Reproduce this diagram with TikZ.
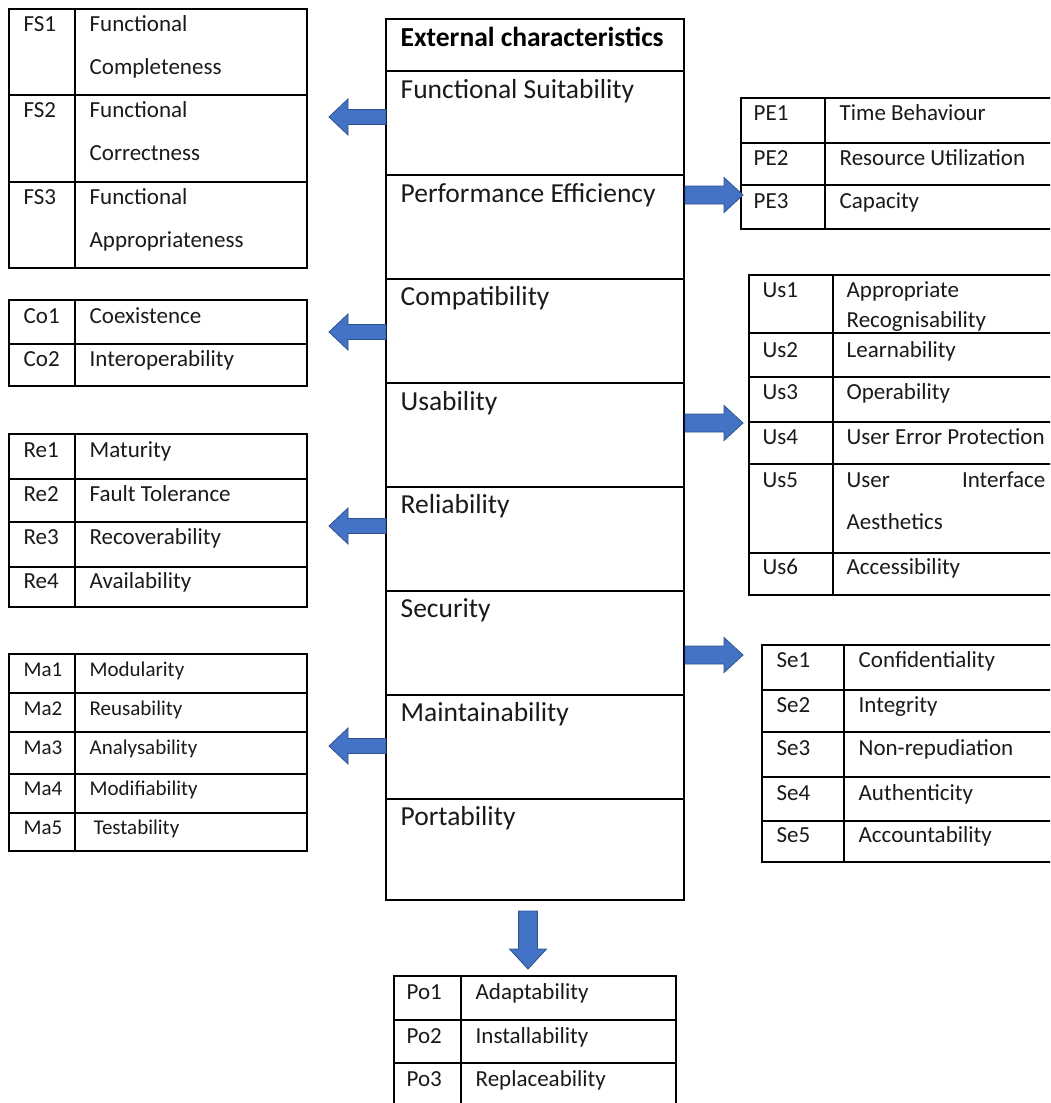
\documentclass[tikz,border=0pt]{standalone}
\usepackage{fontspec}
\setmainfont{Carlito}
\definecolor{arrowfill}{HTML}{4472C4}
\definecolor{arrowedge}{HTML}{2F528F}
\definecolor{ink}{HTML}{1A1A1A}
\begin{document}
\begin{tikzpicture}[x=1pt,y=-1pt,line width=1.3pt,
  cell/.style={anchor=base west,inner sep=0pt,text=ink,font=\fontsize{23}{27}\selectfont},
  cellsm/.style={cell,font=\fontsize{21}{25}\selectfont},
  charrow/.style={anchor=base west,inner sep=0pt,text=ink,font=\fontsize{27.5}{33}\selectfont},
  charhead/.style={anchor=base west,inner sep=0pt,text=black,font=\bfseries\fontsize{27.5}{33}\selectfont},
  blockarrow/.style={fill=arrowfill,draw=arrowedge,line width=0.8pt,line join=miter},
  leftarr/.pic={\path[blockarrow] (0,0) -- (19,-18) -- (19,-7.5) -- (57,-7.5) -- (57,7.5) -- (19,7.5) -- (19,18) -- cycle;},
  rightarr/.pic={\path[blockarrow] (0,-9) -- (39,-9) -- (39,-17.5) -- (58,0) -- (39,17.5) -- (39,9) -- (0,9) -- cycle;},
  downarr/.pic={\path[blockarrow] (-9.5,0) -- (9.5,0) -- (9.5,38) -- (18.5,38) -- (0,58) -- (-18.5,38) -- (-9.5,38) -- cycle;}]
\useasboundingbox[fill=white] (0,0) rectangle (1050,1103);
\clip (0,0) rectangle (1050,1103);

% ---------- central table ----------
\draw (386,19) rectangle (684,900);
\foreach \y in {71,175,279,383,487,591,695,799} \draw (386,\y) -- (684,\y);
\node[charhead] (hdr) at (400,46.8) {External characteristics};
\node[charrow] (cFS) at (400,98.8) {Functional Suitability};
\node[charrow] (cPE) at (400,202.8) {Performance Efficiency};
\node[charrow] (cCo) at (400,305.8) {Compatibility};
\node[charrow] (cUs) at (400,410.8) {Usability};
\node[charrow] (cRe) at (400,513.8) {Reliability};
\node[charrow] (cSe) at (400,617.8) {Security};
\node[charrow] (cMa) at (400,721.8) {Maintainability};
\node[charrow] (cPo) at (400,825.8) {Portability};

% ---------- functional suitability ----------
\draw (9,9) rectangle (307,268);
\draw (75,9) -- (75,268);
\foreach \y in {95,182} \draw (9,\y) -- (307,\y);
\node[cell] (fs1) at (23,31.2) {FS1};
\node[cell] (fs1a) at (89,31.2) {Functional};
\node[cell] (fs1b) at (89,74.2) {Completeness};
\node[cell] (fs2) at (23,117.2) {FS2};
\node[cell] (fs2a) at (89,117.2) {Functional};
\node[cell] (fs2b) at (89,160.2) {Correctness};
\node[cell] (fs3) at (23,204.2) {FS3};
\node[cell] (fs3a) at (89,204.2) {Functional};
\node[cell] (fs3b) at (89,247.2) {Appropriateness};

% ---------- compatibility ----------
\draw (9,300) rectangle (307,386);
\draw (75,300) -- (75,386);
\draw (9,344) -- (307,344);
\node[cell] (co1) at (23,323.2) {Co1};
\node[cell] (co1a) at (89,323.2) {Coexistence};
\node[cell] (co2) at (23,366.2) {Co2};
\node[cell] (co2a) at (89,366.2) {Interoperability};

% ---------- reliability ----------
\draw (9,434) rectangle (307,607);
\draw (75,434) -- (75,607);
\foreach \y in {479,522,567} \draw (9,\y) -- (307,\y);
\node[cell] (re1) at (23,457.2) {Re1};
\node[cell] (re1a) at (89,457.2) {Maturity};
\node[cell] (re2) at (23,501.2) {Re2};
\node[cell] (re2a) at (89,501.2) {Fault Tolerance};
\node[cell] (re3) at (23,544.2) {Re3};
\node[cell] (re3a) at (89,544.2) {Recoverability};
\node[cell] (re4) at (23,588.2) {Re4};
\node[cell] (re4a) at (89,588.2) {Availability};

% ---------- maintainability ----------
\draw (9,654) rectangle (307,851);
\draw (75,654) -- (75,851);
\foreach \y in {693,732,774,813} \draw (9,\y) -- (307,\y);
\node[cellsm] (ma1) at (23,676.7) {Ma1};
\node[cellsm] (ma1a) at (89,676.7) {Modularity};
\node[cellsm] (ma2) at (23,715.7) {Ma2};
\node[cellsm] (ma2a) at (89,715.7) {Reusability};
\node[cellsm] (ma3) at (23,754.7) {Ma3};
\node[cellsm] (ma3a) at (89,754.7) {Analysability};
\node[cellsm] (ma4) at (23,795.7) {Ma4};
\node[cellsm] (ma4a) at (89,795.7) {Modifiability};
\node[cellsm] (ma5) at (23,834.7) {Ma5};
\node[cellsm] (ma5a) at (93,834.7) {Testability};

% ---------- performance efficiency ----------
\draw (1070,98) -- (741,98) -- (741,229) -- (1070,229);
\draw (825,98) -- (825,229);
\foreach \y in {143,185} \draw (741,\y) -- (1070,\y);
\node[cell] (pe1) at (753,120.2) {PE1};
\node[cell] (pe1a) at (839,120.2) {Time Behaviour};
\node[cell] (pe2) at (753,165.2) {PE2};
\node[cell] (pe2a) at (839,165.2) {Resource Utilization};
\node[cell] (pe3) at (753,208.2) {PE3};
\node[cell] (pe3a) at (839,208.2) {Capacity};

% ---------- usability ----------
\draw (1070,275) -- (749,275) -- (749,595) -- (1070,595);
\draw (833,275) -- (833,595);
\foreach \y in {333,377,422,464,553} \draw (749,\y) -- (1070,\y);
\node[cell] (us1) at (762,297.2) {Us1};
\node[cell] (us1a) at (846,297.2) {Appropriate};
\node[cell] (us1b) at (846,327.2) {Recognisability};
\node[cell] (us2) at (762,357.2) {Us2};
\node[cell] (us2a) at (846,357.2) {Learnability};
\node[cell] (us3) at (762,399.2) {Us3};
\node[cell] (us3a) at (846,399.2) {Operability};
\node[cell] (us4) at (762,444.2) {Us4};
\node[cell] (us4a) at (846,444.2) {User Error Protection};
\node[cell] (us5) at (762,487.2) {Us5};
\node[cell] (us5a) at (846,487.2) {User};
\node[cell,anchor=base east] (us5b) at (1046,487.2) {Interface};
\node[cell] (us5c) at (846,529.2) {Aesthetics};
\node[cell] (us6) at (762,574.2) {Us6};
\node[cell] (us6a) at (846,574.2) {Accessibility};

% ---------- security ----------
\draw (1070,645) -- (762,645) -- (762,862) -- (1070,862);
\draw (844,645) -- (844,862);
\foreach \y in {690,732,777,821} \draw (762,\y) -- (1070,\y);
\node[cell] (se1) at (776,667.2) {Se1};
\node[cell] (se1a) at (858,667.2) {Confidentiality};
\node[cell] (se2) at (776,712.2) {Se2};
\node[cell] (se2a) at (858,712.2) {Integrity};
\node[cell] (se3) at (776,755.2) {Se3};
\node[cell] (se3a) at (858,755.2) {Non-repudiation};
\node[cell] (se4) at (776,800.2) {Se4};
\node[cell] (se4a) at (858,800.2) {Authenticity};
\node[cell] (se5) at (776,842.2) {Se5};
\node[cell] (se5a) at (858,842.2) {Accountability};

% ---------- portability ----------
\draw (394,1120) -- (394,976) -- (676,976) -- (676,1120);
\draw (461,976) -- (461,1120);
\foreach \y in {1020,1063} \draw (394,\y) -- (676,\y);
\node[cell] (po1) at (406,999.2) {Po1};
\node[cell] (po1a) at (475,999.2) {Adaptability};
\node[cell] (po2) at (406,1043.2) {Po2};
\node[cell] (po2a) at (475,1043.2) {Installability};
\node[cell] (po3) at (406,1086.2) {Po3};
\node[cell] (po3a) at (475,1086.2) {Replaceability};

% ---------- block arrows ----------
\coordinate (aFS) at (329,117);
\coordinate (aCo) at (329,332);
\coordinate (aRe) at (329,526);
\coordinate (aMa) at (329,746);
\coordinate (aPE) at (685,195);
\coordinate (aUs) at (685,423);
\coordinate (aSe) at (685,655);
\coordinate (aPo) at (528,911);
\pic at (aFS) {leftarr};
\pic at (aCo) {leftarr};
\pic at (aRe) {leftarr};
\pic at (aMa) {leftarr};
\pic at (aPE) {rightarr};
\pic at (aUs) {rightarr};
\pic at (aSe) {rightarr};
\pic at (aPo) {downarr};
\end{tikzpicture}
\end{document}
